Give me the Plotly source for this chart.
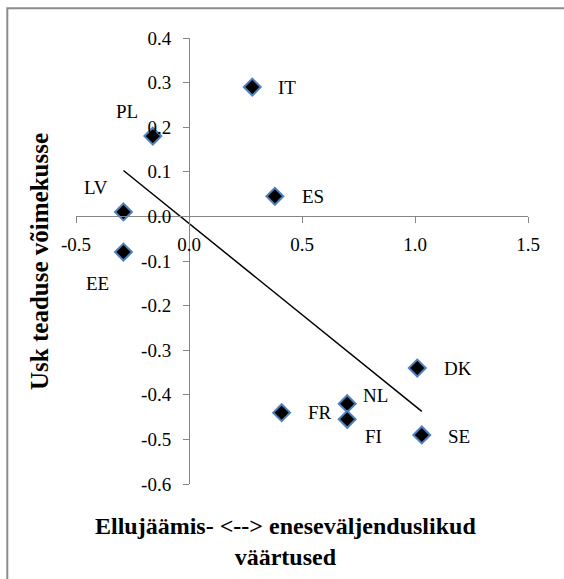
import numpy as np
import plotly.graph_objects as go

# ---- data ----
countries = ["IT", "PL", "LV", "EE", "ES", "DK", "NL", "FR", "FI", "SE"]
x_values = [0.28, -0.16, -0.29, -0.29, 0.38, 1.01, 0.70, 0.41, 0.70, 1.03]
y_values = [0.29, 0.18, 0.01, -0.08, 0.045, -0.34, -0.42, -0.44, -0.455, -0.49]
x_ticks = [-0.5, 0.0, 0.5, 1.0, 1.5]
y_ticks = [-0.6, -0.5, -0.4, -0.3, -0.2, -0.1, 0.0, 0.1, 0.2, 0.3, 0.4]
x_title = "Ellujäämis- <--> eneseväljenduslikud<br>väärtused"
y_title = "Usk teaduse võimekusse"

# label offsets in pixels (style)
label_shift = {
    "IT": (35, 0), "PL": (-26, 25), "LV": (-27, 24), "EE": (-26, -31),
    "ES": (38, 0), "DK": (41, 0), "NL": (28, 8), "FR": (38, 0),
    "FI": (26, -17), "SE": (37, -2),
}

FONT = "Liberation Serif"
AXIS_COLOR = "#868686"

fig = go.Figure()

# linear trend line (least squares)
slope, intercept = np.polyfit(x_values, y_values, 1)
tx = np.array([min(x_values), max(x_values)])
fig.add_trace(go.Scatter(x=tx, y=slope * tx + intercept, mode="lines",
                         line=dict(color="black", width=1.5),
                         hoverinfo="skip", showlegend=False))

fig.add_trace(go.Scatter(
    x=x_values, y=y_values, mode="markers",
    marker=dict(symbol="diamond", size=13, color="black",
                line=dict(color="#4F81BD", width=2)),
    text=countries, showlegend=False))

for c, xv, yv in zip(countries, x_values, y_values):
    dx, dy = label_shift[c]
    fig.add_annotation(x=xv, y=yv, text=c, showarrow=False,
                       xshift=dx, yshift=dy,
                       font=dict(family=FONT, size=19, color="black"))

# axis titles
fig.add_annotation(xref="paper", yref="paper", x=0.464, y=-0.128,
                   text="<b>" + x_title + "</b>", showarrow=False,
                   xanchor="center", yanchor="middle",
                   font=dict(family=FONT, size=24, color="black"))
fig.add_annotation(xref="paper", yref="paper", x=-0.082, y=0.5,
                   text="<b>" + y_title + "</b>", showarrow=False, textangle=-90,
                   xanchor="center", yanchor="middle",
                   font=dict(family=FONT, size=25, color="black"))

# chart border
fig.add_shape(type="rect", xref="paper", yref="paper",
              x0=-0.152, y0=-0.3, x1=1.2, y1=1.0665,
              line=dict(color="#8c8c8c", width=2), fillcolor="rgba(0,0,0,0)",
              layer="below")

fig.update_layout(
    width=564, height=579,
    margin=dict(l=76, r=36, t=38, b=95, autoexpand=False),
    paper_bgcolor="white", plot_bgcolor="white",
    font=dict(family=FONT, size=19, color="black"),
    xaxis=dict(range=[-0.5, 1.5], tickvals=x_ticks,
               ticktext=["{:.1f}".format(v) for v in x_ticks],
               showgrid=False, zeroline=False, showline=True,
               linecolor=AXIS_COLOR, linewidth=1, automargin=False,
               ticks="outside", ticklen=6, tickcolor=AXIS_COLOR,
               ticklabelstandoff=5,
               anchor="free", position=0.6, side="bottom",
               tickfont=dict(family=FONT, size=19, color="black")),
    yaxis=dict(range=[-0.6, 0.4], tickvals=y_ticks,
               ticktext=["{:.1f}".format(v) for v in y_ticks],
               showgrid=False, zeroline=False, showline=True,
               linecolor=AXIS_COLOR, linewidth=1, automargin=False,
               ticks="outside", ticklen=6, tickcolor=AXIS_COLOR,
               ticklabelstandoff=8,
               anchor="free", position=0.25, side="left",
               tickfont=dict(family=FONT, size=19, color="black")),
)

fig.write_html("out.html", config={"displayModeBar": False},
               post_script="document.body.style.margin='0';document.body.style.overflow='hidden';")
